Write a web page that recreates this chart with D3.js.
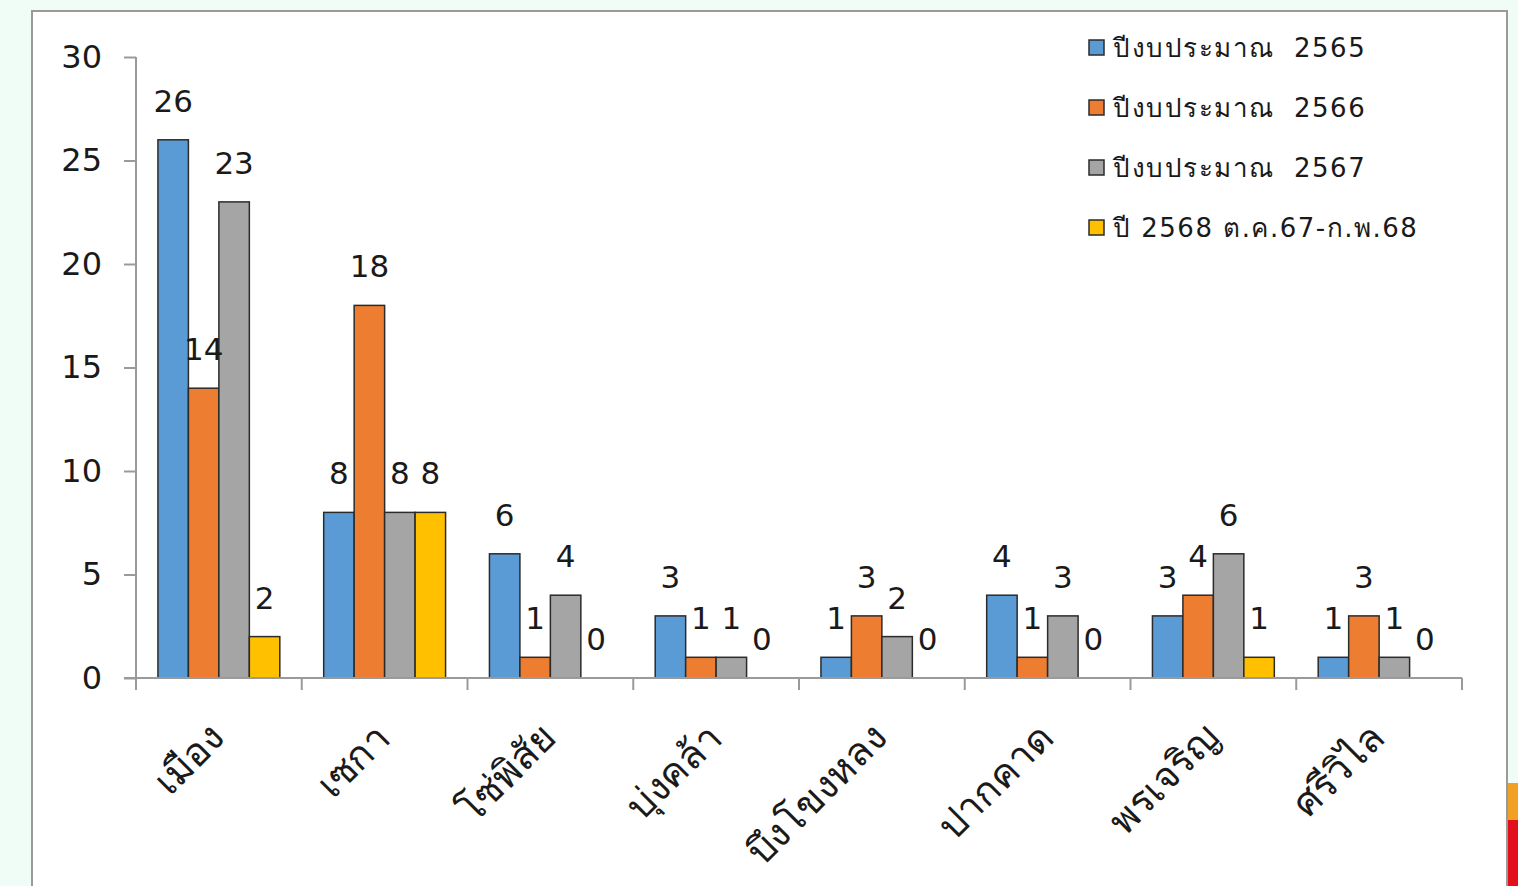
<!DOCTYPE html>
<html lang="th">
<head>
<meta charset="UTF-8">
<title>ปีงบประมาณ</title>
<script src="https://d3js.org/d3.v7.min.js"></script>
<style>
    body { margin: 0; background: #f0fcf6; }
    svg { display: block; }
    text { font-family: "DejaVu Sans", sans-serif; fill: #1a1a1a; }
</style>
</head>
<body>
<svg id="chart" width="1518" height="886"></svg>
<script>
// data
var categories = ['เมือง', 'เซกา', 'โซ่พิสัย', 'บุ่งคล้า', 'บึงโขงหลง', 'ปากคาด', 'พรเจริญ', 'ศรีวิไล'];
var seriesNames = ['ปีงบประมาณ  2565', 'ปีงบประมาณ  2566', 'ปีงบประมาณ  2567', 'ปี 2568 ต.ค.67-ก.พ.68'];
var y2565 = [26, 8, 6, 3, 1, 4, 3, 1];
var y2566 = [14, 18, 1, 1, 3, 1, 4, 3];
var y2567 = [23, 8, 4, 1, 2, 3, 6, 1];
var y2568 = [2, 8, 0, 0, 0, 0, 1, 0];
var colors = ['#5b9bd5', '#ed7d31', '#a5a5a5', '#ffc000'];
var yTicks = [0, 5, 10, 15, 20, 25, 30];

var allSeries = [y2565, y2566, y2567, y2568];

var svg = d3.select('#chart');

// white chart frame
svg.append('rect')
    .attr('x', 32).attr('y', 11)
    .attr('width', 1475).attr('height', 890)
    .attr('fill', '#fff')
    .attr('stroke', '#9a9a9a')
    .attr('stroke-width', 2);

// slide decoration at the bottom right
svg.append('rect').attr('x', 1508).attr('y', 783).attr('width', 10).attr('height', 38).attr('fill', '#f2a024');
svg.append('rect').attr('x', 1508).attr('y', 820).attr('width', 10).attr('height', 66).attr('fill', '#e3101c');

var m = {left: 136, right: 1462, top: 57, bottom: 678};

var x0 = d3.scaleBand()
    .domain(categories)
    .range([m.left, m.right])
    .paddingInner(0)
    .paddingOuter(0);

var x1 = d3.scaleBand()
    .domain(d3.range(4))
    .range([0, x0.bandwidth()])
    .paddingOuter(0.72)
    .paddingInner(0);

var y = d3.scaleLinear()
    .domain([0, 30])
    .range([m.bottom, m.top]);

// bars
var groups = svg.append('g').selectAll('g')
    .data(categories)
    .join('g')
    .attr('transform', function(d) { return 'translate(' + x0(d) + ',0)'; });

groups.selectAll('rect')
    .data(function(d, i) { return allSeries.map(function(s, k) { return {k: k, v: s[i]}; }); })
    .join('rect')
    .attr('x', function(d) { return x1(d.k); })
    .attr('y', function(d) { return y(d.v); })
    .attr('width', x1.bandwidth())
    .attr('height', function(d) { return y(0) - y(d.v); })
    .attr('fill', function(d) { return colors[d.k]; })
    .attr('stroke', function(d) { return d.v > 0 ? '#2b2b2b' : 'none'; })
    .attr('stroke-width', 1.5);

// value labels
groups.selectAll('text')
    .data(function(d, i) { return allSeries.map(function(s, k) { return {k: k, v: s[i]}; }); })
    .join('text')
    .attr('x', function(d) { return x1(d.k) + x1.bandwidth() / 2; })
    .attr('y', function(d) { return y(d.v) - 28; })
    .attr('text-anchor', 'middle')
    .attr('font-size', '31px')
    .text(function(d) { return d.v; });

// y axis
var yAxis = svg.append('g')
    .attr('transform', 'translate(' + m.left + ',0)')
    .call(d3.axisLeft(y).tickValues(yTicks).tickSize(12).tickPadding(22));
yAxis.selectAll('path, line').attr('stroke', '#9a9a9a').attr('stroke-width', 2);
yAxis.select('.domain').attr('d', 'M0,' + m.top + 'V' + m.bottom);
yAxis.selectAll('text')
    .attr('font-size', '32px')
    .attr('font-family', '"DejaVu Sans", sans-serif')
    .attr('fill', '#1a1a1a');

// x axis
var xAxis = svg.append('g')
    .attr('transform', 'translate(0,' + m.bottom + ')')
    .call(d3.axisBottom(x0).tickSize(0).tickFormat(''));
xAxis.select('.domain')
    .attr('d', 'M' + (m.left - 12) + ',0H' + m.right)
    .attr('stroke', '#9a9a9a').attr('stroke-width', 2);
xAxis.selectAll('.tick').remove();

// category boundary ticks
var bounds = categories.map(function(c) { return x0(c); }).concat([m.right]);
xAxis.selectAll('line.sep')
    .data(bounds)
    .join('line')
    .attr('class', 'sep')
    .attr('x1', function(d) { return d; })
    .attr('x2', function(d) { return d; })
    .attr('y1', 0).attr('y2', 12)
    .attr('stroke', '#9a9a9a').attr('stroke-width', 2);

// rotated category labels
xAxis.selectAll('text.cat')
    .data(categories)
    .join('text')
    .attr('class', 'cat')
    .attr('text-anchor', 'end')
    .attr('font-size', '39px')
    .attr('transform', function(d) {
        return 'translate(' + (x0(d) + x0.bandwidth() / 2 + 8) + ',62) rotate(-45)';
    })
    .text(function(d) { return d; });

// legend
var legend = svg.append('g').attr('transform', 'translate(1089,40)');
var items = legend.selectAll('g')
    .data(seriesNames)
    .join('g')
    .attr('transform', function(d, i) { return 'translate(0,' + (i * 60) + ')'; });
items.append('rect')
    .attr('width', 15).attr('height', 15)
    .attr('fill', function(d, i) { return colors[i]; })
    .attr('stroke', '#2b2b2b').attr('stroke-width', 1.5);
items.append('text')
    .attr('x', 24).attr('y', 17)
    .attr('font-size', '26px')
    .attr('letter-spacing', '1.5px')
    .style('white-space', 'pre')
    .text(function(d) { return d; });
</script>
</body>
</html>
